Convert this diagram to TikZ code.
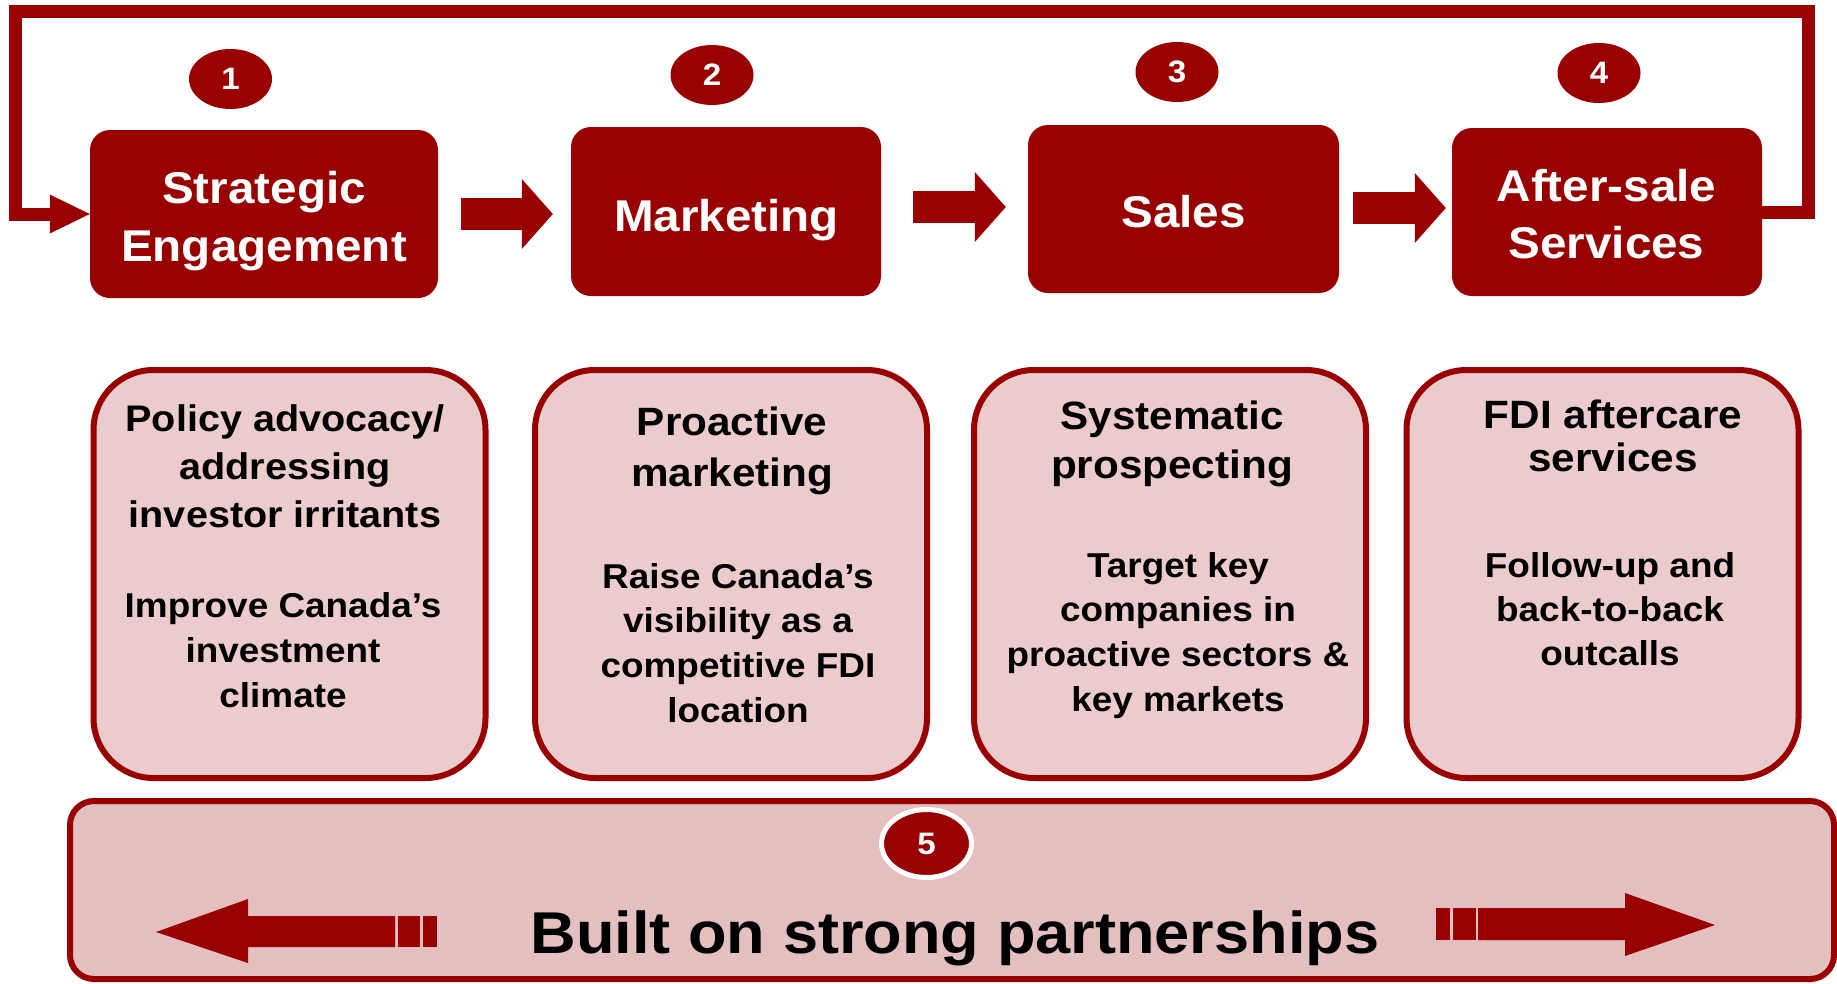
\documentclass[tikz,border=0pt]{standalone}
\usepackage{fontspec}
\setmainfont{Liberation Sans}[FakeStretch=1.07]
\usetikzlibrary{arrows.meta,shapes.geometric}

\definecolor{brand}{HTML}{990000}
\definecolor{panelfill}{HTML}{EBCBCB}
\definecolor{bandfill}{HTML}{E3BFBF}

% centred lines whose baseline is the baseline of the first line
\newcommand\stack[2]{\vtop{\baselineskip=#1\relax\lineskiplimit=-200pt\relax
  \halign{\hfil##\hfil\cr#2\crcr}}}

\begin{document}
\begin{tikzpicture}[x=1pt,y=-1pt,
  stage/.style={fill=brand, rounded corners=20pt, inner sep=0pt},
  stagetext/.style={text=white, anchor=base, inner sep=0pt,
    font=\fontsize{44.5}{58}\selectfont\bfseries},
  num/.style={ellipse, fill=brand, inner sep=0pt, minimum width=83pt,
    minimum height=60pt, text=white, font=\fontsize{31}{36}\selectfont\bfseries},
  panel/.style={draw=brand, line width=6pt, fill=panelfill, rounded corners=60pt,
    inner sep=0pt, minimum width=392pt, minimum height=408pt},
  paneltext/.style={anchor=base, inner sep=0pt, text=black},
  flow/.style={brand, line width=32pt,
    -{Triangle[length=31pt,width=70pt,line width=0pt]}},
  cycleline/.style={brand, line width=13pt, line join=miter,
    -{Triangle[length=40pt,width=39pt,line width=0pt]}}
]
\useasboundingbox (0,0) rectangle (1837,983);

% stage boxes
\node[stage, minimum width=348pt, minimum height=168pt] (s1) at (264,214) {};
\node[stage, minimum width=310pt, minimum height=169pt] (s2) at (726,211.5) {};
\node[stage, minimum width=311pt, minimum height=168pt] (s3) at (1183.5,209) {};
\node[stage, minimum width=310pt, minimum height=168pt] (s4) at (1607,212) {};

\node[stagetext] (s1t) at (264,203) {\stack{58pt}{Strategic\cr Engagement}};
\node[stagetext] (s2t) at (726.5,231) {Marketing};
\node[stagetext] (s3t) at (1183.5,227) {Sales};
\node[stagetext] (s4t) at (1606.5,201) {\stack{57pt}{After-sale\cr Services}};

% step numbers
\node[num] (n1) at (230.5,79) {1};
\node[num] (n2) at (712,75) {2};
\node[num] (n3) at (1177,72) {3};
\node[num] (n4) at (1599,73) {4};

% arrows between the stages
\draw[flow, shorten >=18pt] ([xshift=23pt]s1.east) -- (s1.east -| s2.west);
\draw[flow, shorten >=22pt] ([xshift=32pt,yshift=4.5pt]s2.east) -- ([yshift=4.5pt]s2.east -| s3.west);
\draw[flow, shorten >=6pt] ([xshift=14pt,yshift=1pt]s3.east) -- ([yshift=1pt]s3.east -| s4.west);

% return loop from the last stage back to the first
\coordinate (loopR) at (1808,11);
\coordinate (loopL) at (15.5,11);
\draw[cycleline] (s4.east) -| (loopR) -- (loopL) |- (s1.west);

% activity panels
\node[panel] (p1) at (289.5,574) {};
\node[panel] (p2) at (731,574) {};
\node[panel] (p3) at (1170,574) {};
\node[panel] (p4) at (1602.5,574) {};

\node[paneltext, font=\fontsize{37}{48}\selectfont\bfseries] (p1h) at (285,431)
  {\stack{48pt}{Policy advocacy/\cr addressing\cr investor irritants}};
\node[paneltext, font=\fontsize{34.5}{45}\selectfont\bfseries] (p1b) at (283,617)
  {\stack{45pt}{Improve Canada’s\cr investment\cr climate}};

\node[paneltext, font=\fontsize{39.5}{51}\selectfont\bfseries] (p2h) at (732,435)
  {\stack{51pt}{Proactive\cr marketing}};
\node[paneltext, font=\fontsize{34.5}{45}\selectfont\bfseries] (p2b) at (738,588)
  {\stack{44.7pt}{Raise Canada’s\cr visibility as a\cr competitive FDI\cr location}};

\node[paneltext, font=\fontsize{39.5}{49}\selectfont\bfseries] (p3h) at (1172,429)
  {\stack{49pt}{Systematic\cr prospecting}};
\node[paneltext, font=\fontsize{34.5}{45}\selectfont\bfseries] (p3b) at (1178,577)
  {\stack{44.7pt}{Target key\cr companies in\cr proactive sectors \&\cr key markets}};

\node[paneltext, font=\fontsize{39.5}{49}\selectfont\bfseries] (p4h) at (1613,428)
  {\stack{43pt}{FDI aftercare\cr services}};
\node[paneltext, font=\fontsize{34.5}{45}\selectfont\bfseries] (p4b) at (1610,577)
  {\stack{44pt}{Follow-up and\cr back-to-back\cr outcalls}};

% partnership band
\node[draw=brand, line width=6pt, fill=bandfill, rounded corners=24pt, inner sep=0pt,
  minimum width=1764pt, minimum height=178pt] (band) at (952,890) {};
\node[num, draw=white, line width=5pt, minimum width=90pt, minimum height=68pt]
  (n5) at (926.5,843.5) {5};
\node[anchor=base, inner sep=0pt, font=\fontsize{59}{70}\selectfont\bfseries]
  (bandtext) at (955,953) {Built on strong partnerships};

% outward arrows in the band
\fill[brand] (395,916) -- (248,916) -- (248,899) -- (156,932) -- (248,963)
  -- (248,947) -- (395,947) -- cycle;
\fill[brand] (398,916) rectangle (420,947);
\fill[brand] (423,916) rectangle (437,947);
\fill[brand] (1478,908) -- (1625,908) -- (1625,893) -- (1715,925) -- (1625,956)
  -- (1625,940) -- (1478,940) -- cycle;
\fill[brand] (1436,908) rectangle (1450,940);
\fill[brand] (1453,908) rectangle (1476,940);
\end{tikzpicture}
\end{document}
